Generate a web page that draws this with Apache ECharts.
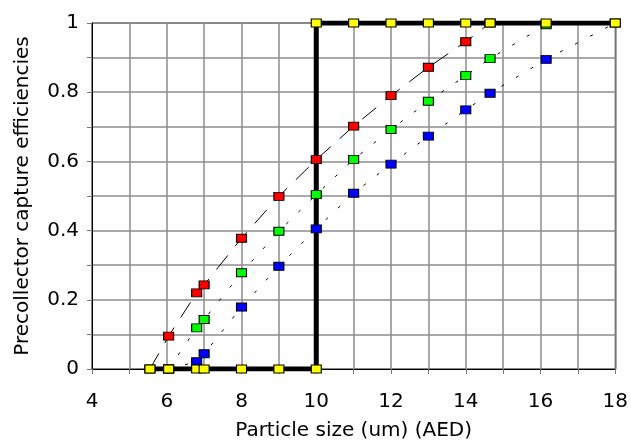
<!DOCTYPE html>
<html>
<head>
<meta charset="utf-8">
<script src="https://cdn.jsdelivr.net/npm/echarts@6/dist/echarts.min.js"></script>
<style>
  html, body { margin: 0; padding: 0; background: #fff; }
  #chart { width: 631px; height: 448px; }
</style>
</head>
<body>
<div id="chart"></div>
<script>
// particle size (um) and capture efficiency
const redX = [5.55, 6.05, 6.8, 7, 8, 9, 10, 11, 12, 13, 14, 14.65];
const redY = [0, 0.095, 0.22, 0.243, 0.378, 0.499, 0.605, 0.702, 0.79, 0.872, 0.946, 1.0];
const greenX = [6.05, 6.8, 7, 8, 9, 10, 11, 12, 13, 14, 14.65, 16.15];
const greenY = [0, 0.119, 0.143, 0.278, 0.398, 0.504, 0.606, 0.692, 0.774, 0.848, 0.897, 0.995];
const blueX = [6.05, 6.8, 7, 8, 9, 10, 11, 12, 13, 14, 14.65, 16.15, 18];
const blueY = [0, 0.021, 0.044, 0.179, 0.297, 0.405, 0.508, 0.592, 0.673, 0.749, 0.797, 0.895, 1.0];
const stepX = [5.55, 6.05, 6.8, 7, 8, 9, 10, 10, 11, 12, 13, 14, 14.65, 16.15, 18];
const stepY = [0, 0, 0, 0, 0, 0, 0, 1, 1, 1, 1, 1, 1, 1, 1];

function pairs(xs, ys) {
  return xs.map(function (x, i) { return [x, ys[i]]; });
}

const font = "DejaVu Sans, Liberation Sans, sans-serif";

function markerSeries(name, xs, ys, fill, dash) {
  return {
    name: name,
    type: "line",
    data: pairs(xs, ys),
    symbol: "rect",
    symbolSize: [10, 8],
    showAllSymbol: true,
    itemStyle: { color: fill, borderColor: "#000", borderWidth: 1 },
    lineStyle: { color: "#000", width: 1, type: dash },
    emphasis: { disabled: true },
  };
}

const chart = echarts.init(document.getElementById("chart"));
chart.setOption({
  animation: false,
  grid: {
    left: 92, right: 11, top: 23, bottom: 79,
    show: true, borderColor: "#000", borderWidth: 1,
  },
  xAxis: {
    type: "value",
    min: 4, max: 18, interval: 1,
    name: "Particle size (um) (AED)",
    nameLocation: "middle",
    nameGap: 52,
    nameTextStyle: { fontFamily: font, fontSize: 20, color: "#000" },
    axisLine: { lineStyle: { color: "#000", width: 1 } },
    axisTick: { show: true, length: 5, lineStyle: { color: "#777" } },
    splitLine: { show: true, lineStyle: { color: "#8c8c8c", width: 1.5 } },
    axisLabel: {
      margin: 23,
      fontFamily: font, fontSize: 20, color: "#000",
      formatter: function (v) { return v % 2 === 0 ? String(v) : ""; },
    },
  },
  yAxis: {
    type: "value",
    min: 0, max: 1, interval: 0.1,
    name: "Precollector capture efficiencies",
    nameLocation: "middle",
    nameGap: 59,
    nameTextStyle: { fontFamily: font, fontSize: 20, color: "#000" },
    axisLine: { show: true, lineStyle: { color: "#000", width: 1 } },
    axisTick: { show: true, length: 5, lineStyle: { color: "#777" } },
    splitLine: { show: true, lineStyle: { color: "#8c8c8c", width: 1.5 } },
    axisLabel: {
      margin: 13,
      fontFamily: font, fontSize: 20, color: "#000",
      formatter: function (v) {
        const t = Math.round(v * 10);
        return t % 2 === 0 ? String(t / 10) : "";
      },
    },
  },
  series: [
    markerSeries("red", redX, redY, "#ff0000", [18, 12]),
    markerSeries("green", greenX, greenY, "#00ff00", [3, 14]),
    markerSeries("blue", blueX, blueY, "#0000ff", [3, 14]),
    {
      name: "step",
      type: "line",
      data: pairs(stepX, stepY),
      symbol: "rect",
      symbolSize: [10, 8],
      showAllSymbol: true,
      itemStyle: { color: "#ffff00", borderColor: "#000", borderWidth: 1 },
      lineStyle: { color: "#000", width: 5 },
      emphasis: { disabled: true },
    },
  ],
});
</script>
</body>
</html>
